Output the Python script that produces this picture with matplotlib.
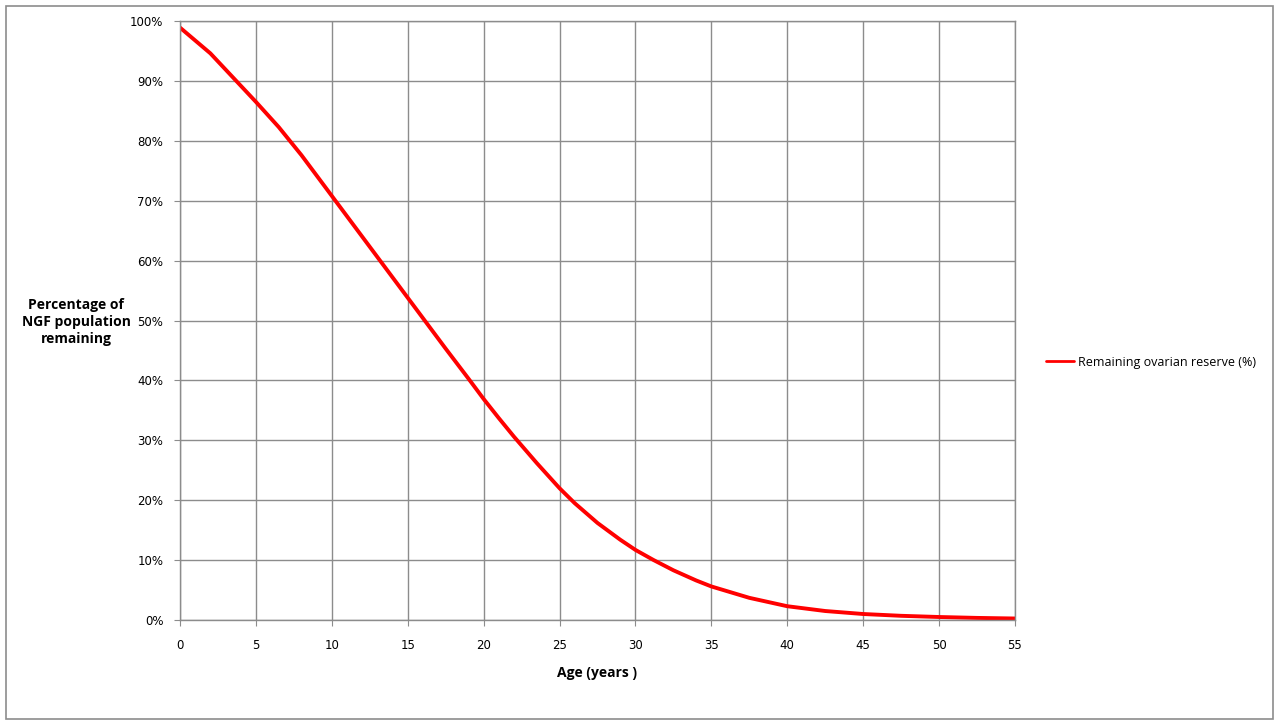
import matplotlib.pyplot as plt
from matplotlib.patches import Rectangle
from matplotlib.ticker import PercentFormatter

# Remaining ovarian reserve
age = [0, 2, 5, 6.5, 8, 10, 12, 13, 15, 16, 17.5, 19, 20, 21, 22, 23.5, 25, 26, 27.5, 29, 30,
       31.2, 32.5, 34, 35, 37.5, 40, 42.5, 45, 47.5, 50, 52.5, 55]
reserve = [98.9, 94.6, 86.5, 82.3, 77.6, 70.8, 64.0, 60.6, 53.8, 50.4, 45.3, 40.3, 36.9, 33.7, 30.6,
           26.2, 22.0, 19.5, 16.2, 13.4, 11.7, 10.0, 8.3, 6.6, 5.6, 3.7, 2.3, 1.5, 1.0, 0.7, 0.5, 0.35, 0.25]

xticks = list(range(0, 56, 5))
yticks = list(range(0, 101, 10))

fig = plt.figure(figsize=(12.8, 7.26), dpi=100)
ax = fig.add_axes([180/1280, 1 - 620/726, (1015 - 180)/1280, (620 - 21)/726])

ax.plot(age, reserve, color='#ff0000', linewidth=2.8, label='Remaining ovarian reserve (%)',
        solid_capstyle='round', solid_joinstyle='round')

ax.set_xlim(0, 55)
ax.set_ylim(0, 100)
ax.set_xticks(xticks)
ax.set_yticks(yticks)
ax.yaxis.set_major_formatter(PercentFormatter(decimals=0))
ax.grid(True, color='#8c8c8c', linewidth=1)
ax.set_axisbelow(True)
for s in ax.spines.values():
    s.set_color('#8c8c8c')
    s.set_linewidth(1)
ax.tick_params(axis='both', colors='#8c8c8c', labelcolor='black', labelsize=8.5, length=4)
ax.tick_params(axis='x', pad=10)
ax.tick_params(axis='y', pad=8)
for lbl in ax.get_xticklabels() + ax.get_yticklabels():
    lbl.set_family('DejaVu Sans')

fig.text(76/1280, 1 - 322/726, 'Percentage of\nNGF population\nremaining', ha='center', va='center',
         fontsize=10, fontweight='bold', family='Open Sans', linespacing=1.3)
fig.text(597/1280, 1 - 673/726, 'Age (years )', ha='center', va='center',
         fontsize=10, fontweight='bold', family='Open Sans')

leg = fig.legend(loc='center left', bbox_to_anchor=(1035/1280, 1 - 362/726), frameon=False,
                 handlelength=2.2, handletextpad=0.3, prop={'family': 'Open Sans', 'size': 9})
for h in leg.get_lines():
    h.set_linewidth(2)

fig.patches.append(Rectangle((6/1280, 1 - 719/726), 1267/1280, 713/726, transform=fig.transFigure,
                             fill=False, edgecolor='#8c8c8c', linewidth=1.2))

plt.savefig('out.png', dpi=100)
plt.close()
